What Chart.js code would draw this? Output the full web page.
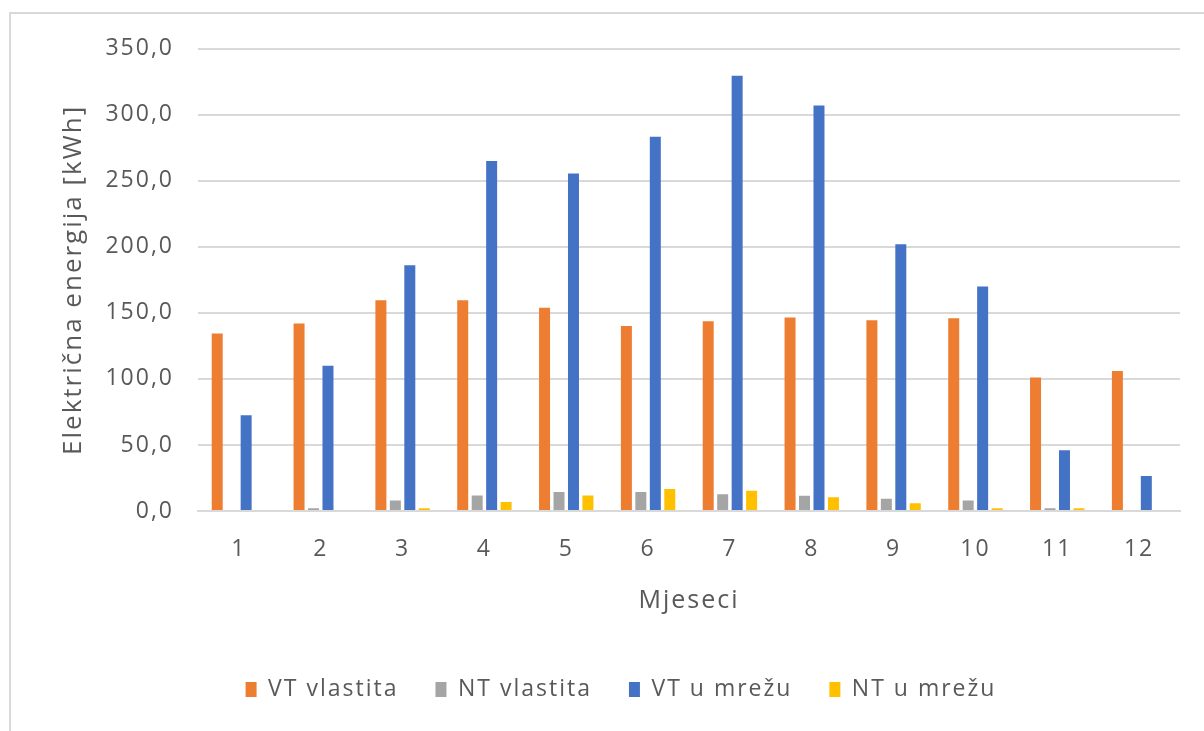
<!DOCTYPE html>
<html>
<head>
<meta charset="utf-8">
<script src="https://cdn.jsdelivr.net/npm/chart.js@4"></script>
<style>
  html, body { margin: 0; padding: 0; background: #fff; overflow: hidden; }
  #frame {
    position: absolute; left: 9px; top: 12px;
    width: 1220px; height: 740px;
    border: 2px solid #d9d9d9;
  }
  #c { position: relative; top: -3px; }
</style>
</head>
<body>
<div id="frame"><canvas id="c" width="1220" height="730"></canvas></div>
<script>
const months = ['1', '2', '3', '4', '5', '6', '7', '8', '9', '10', '11', '12'];
const vtVlastita = [134.5, 142, 159.5, 159.5, 154, 140, 143.6, 146.6, 144.4, 146, 101, 106];
const ntVlastita = [0, 2, 8, 11.8, 14.3, 14.3, 12.7, 11.6, 9.3, 8, 2, 0];
const vtMreza = [72.6, 110, 186, 265, 255.5, 283.4, 329.5, 307, 202, 170, 46, 26.5];
const ntMreza = [0, 0, 2, 6.8, 11.8, 16.6, 15.4, 10.4, 5.8, 2, 2, 0];

const textColor = '#595959';
const gridColor = '#d9d9d9';
const fam = '"Open Sans", sans-serif';

const mk = (label, data, color) => ({
  label, data, backgroundColor: color,
  categoryPercentage: 0.707, barPercentage: 0.76
});

// the original text is a bit wider than Open Sans, so space the letters out
const spacing = {
  id: 'spacing',
  beforeLayout(chart) { chart.ctx.letterSpacing = '2px'; },
  beforeDraw(chart) { chart.ctx.letterSpacing = '2px'; }
};

new Chart(document.getElementById('c'), {
  type: 'bar',
  data: {
    labels: months,
    datasets: [
      mk('VT vlastita', vtVlastita, '#ed7d31'),
      mk('NT vlastita', ntVlastita, '#a5a5a5'),
      mk('VT u mrežu', vtMreza, '#4472c4'),
      mk('NT u mrežu', ntMreza, '#ffc000')
    ]
  },
  plugins: [spacing],
  options: {
    responsive: false,
    animation: false,
    layout: { padding: { top: 15, right: 0, bottom: 30, left: 0 } },
    plugins: {
      tooltip: { enabled: false },
      legend: {
        position: 'bottom',
        labels: {
          color: textColor,
          font: { family: fam, size: 23 },
          boxWidth: 11, boxHeight: 15,
          padding: 37
        }
      }
    },
    scales: {
      x: {
        grid: { display: false, drawTicks: false },
        border: { display: true, color: gridColor, width: 2 },
        ticks: { color: textColor, font: { family: fam, size: 23 }, padding: 25 },
        title: {
          display: true, text: 'Mjeseci', color: textColor,
          font: { family: fam, size: 25 }, padding: { top: 0, bottom: 25 }
        },
        afterFit: (s) => { s.height = 130; }
      },
      y: {
        min: 0, max: 350,
        ticks: {
          stepSize: 50, color: textColor, padding: 24,
          font: { family: fam, size: 23 },
          callback: (v) => v.toFixed(1).replace('.', ',')
        },
        grid: { color: gridColor, lineWidth: 2, drawTicks: false },
        border: { display: false },
        title: {
          display: true, text: 'Električna energija [kWh]', color: textColor,
          font: { family: fam, size: 26 }, padding: { top: 47, bottom: 0 }
        },
        afterFit: (s) => { s.width = 187; }
      },
      // empty right margin, keeps the legend centred on the whole frame
      pad: {
        position: 'right',
        grid: { display: false, drawTicks: false },
        border: { display: false },
        ticks: { display: false },
        afterFit: (s) => { s.width = 51; }
      }
    }
  }
});
</script>
</body>
</html>
